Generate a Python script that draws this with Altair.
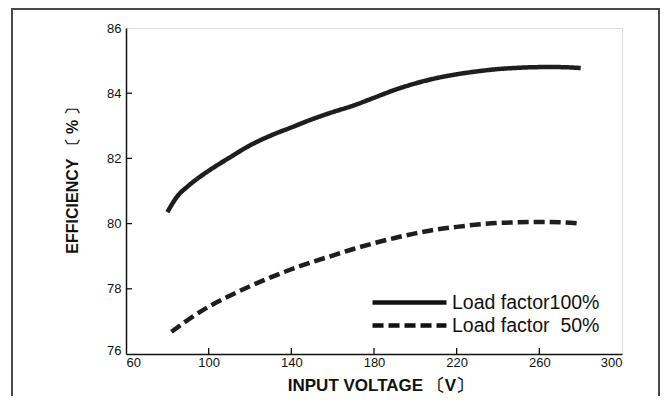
import altair as alt
import pandas as pd

# ---- data ----
volt_100 = [80, 85, 90, 100, 110, 120, 130, 140, 150, 160, 170, 180, 190, 200,
            210, 220, 230, 240, 250, 260, 270, 280]
eff_100 = [80.35, 80.85, 81.15, 81.62, 82.02, 82.40, 82.70, 82.95, 83.20, 83.42,
           83.62, 83.86, 84.10, 84.30, 84.46, 84.58, 84.67, 84.74, 84.78, 84.80,
           84.80, 84.77]
volt_50 = [82, 90, 100, 110, 120, 130, 140, 150, 160, 170, 180, 190, 200, 210,
           220, 230, 240, 250, 260, 270, 280]
eff_50 = [76.68, 77.05, 77.45, 77.78, 78.08, 78.35, 78.60, 78.82, 79.02, 79.22,
          79.40, 79.56, 79.70, 79.82, 79.90, 79.97, 80.02, 80.04, 80.05, 80.04,
          80.00]
series_names = ["Load factor100%", "Load factor\u200750%"]
x_ticks = [60, 100, 140, 180, 220, 260, 300]
y_ticks = [76, 78, 80, 82, 84, 86]

rows = []
for v, e in zip(volt_100, eff_100):
    rows.append({"V": v, "E": e, "s": series_names[0]})
for v, e in zip(volt_50, eff_50):
    rows.append({"V": v, "E": e, "s": series_names[1]})
df = pd.DataFrame(rows)

FONT = "Liberation Sans"
W, H = 496, 326
xscale = alt.Scale(domain=[60, 300], nice=False, zero=False)
yscale = alt.Scale(domain=[76, 86], nice=False, zero=False)

lines = alt.Chart(df).mark_line(
    strokeWidth=4.5, color="#1e1e1e", interpolate="monotone",
    strokeCap="butt", clip=True
).encode(
    x=alt.X("V:Q", scale=xscale,
            axis=alt.Axis(values=x_ticks, title="INPUT VOLTAGE \u3014V\u3015",
                          ticks=False, tickSize=0, labelPadding=2, grid=False,
                          domainColor="#111", domainWidth=1.5,
                          labelFont=FONT, labelFontSize=13, labelColor="#111",
                          titleFont=FONT, titleFontSize=17, titleFontWeight="bold",
                          titleColor="#111", titleX=254, titleY=31,
                          titleBaseline="middle", titleAlign="center")),
    y=alt.Y("E:Q", scale=yscale,
            axis=alt.Axis(values=y_ticks, title="EFFICIENCY \u3014 % \u3015",
                          ticks=False, tickSize=0, labelPadding=5, grid=False,
                          domainColor="#111", domainWidth=1.5,
                          labelFont=FONT, labelFontSize=13, labelColor="#111",
                          labelOffset=alt.condition("datum.value == 76",
                                                    alt.value(-4), alt.value(0)),
                          titleFont=FONT, titleFontSize=16, titleFontWeight="bold",
                          titleColor="#111", titleX=-54, titleY=148,
                          titleAngle=270, titleBaseline="middle",
                          titleAlign="center")),
    strokeDash=alt.StrokeDash(
        "s:N",
        scale=alt.Scale(domain=series_names, range=[[1, 0], [11, 5]]),
        sort=series_names,
        legend=alt.Legend(title=None, orient="none", legendX=272, legendY=263,
                          symbolType="M-4,0H4", symbolSize=342,
                          symbolStrokeWidth=4.5, symbolStrokeColor="#111",
                          symbolFillColor="transparent",
                          rowPadding=2, labelOffset=31, padding=0,
                          labelFont=FONT, labelFontSize=19.5, labelColor="#111",
                          labelLimit=400)),
)

# inward tick marks, placed through the chart's own scales
xt = alt.Chart(pd.DataFrame({"V": x_ticks[1:-1]})).mark_rule(
    color="#111", strokeWidth=1.3).encode(
    x=alt.X("V:Q", scale=xscale), y=alt.value(H), y2=alt.value(H - 6))
yt = alt.Chart(pd.DataFrame({"E": y_ticks[1:-1]})).mark_rule(
    color="#111", strokeWidth=1.3).encode(
    y=alt.Y("E:Q", scale=yscale), x=alt.value(0), x2=alt.value(6))

frame_df = pd.DataFrame({"a": [0]})
frame_style = dict(stroke="#4a4a4a", strokeWidth=2, clip=False)
frame_left = alt.Chart(frame_df).mark_rule(**frame_style).encode(
    x=alt.value(-114), y=alt.value(-19), y2=alt.value(H + 80))
frame_top = alt.Chart(frame_df).mark_rule(**frame_style).encode(
    x=alt.value(-115), x2=alt.value(534), y=alt.value(-19))
frame_right = alt.Chart(frame_df).mark_rule(**frame_style).encode(
    x=alt.value(533), y=alt.value(-19), y2=alt.value(H + 80))

chart = alt.layer(lines, xt, yt, frame_left, frame_top, frame_right).properties(
    width=W, height=H,
    autosize=alt.AutoSizeParams(type="none"),
    padding={"left": 118, "top": 20, "right": 38, "bottom": 42},
).configure_view(
    stroke="#222", strokeWidth=1.5
).configure(background="white")

chart.save("out.html", embed_options={"renderer": "svg", "actions": False})
